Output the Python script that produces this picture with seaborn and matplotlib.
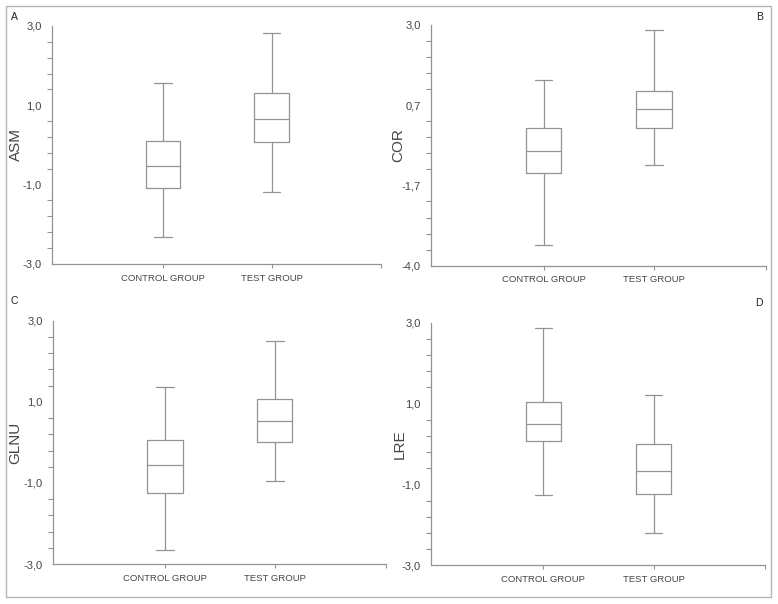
import seaborn as sns
import matplotlib.pyplot as plt
import matplotlib.patches as mpatches
import numpy as np
import pandas as pd

groups = ["CONTROL GROUP", "TEST GROUP"]

# five-number summaries: min, Q1, median, Q3, max
asm_control = [-2.32, -1.09, -0.53, 0.10, 1.57]
asm_test = [-1.19, 0.08, 0.66, 1.30, 2.83]
cor_control = [-3.39, -1.31, -0.66, -0.01, 1.40]
cor_test = [-1.07, 0.00, 0.54, 1.08, 2.85]
glnu_control = [-2.65, -1.24, -0.56, 0.05, 1.36]
glnu_test = [-0.95, 0.00, 0.53, 1.06, 2.49]
lre_control = [-1.26, 0.08, 0.49, 1.03, 2.87]
lre_test = [-2.19, -1.24, -0.68, 0.00, 1.22]

features = ["ASM", "COR", "GLNU", "LRE"]
letters = ["A", "B", "C", "D"]
y_ranges = [(-3.0, 3.0), (-4.0, 3.0), (-3.0, 3.0), (-3.0, 3.0)]
values = {
    "ASM": (asm_control, asm_test),
    "COR": (cor_control, cor_test),
    "GLNU": (glnu_control, glnu_test),
    "LRE": (lre_control, lre_test),
}

rows = []
for feat in features:
    for grp, vals in zip(groups, values[feat]):
        for v in vals:
            rows.append({"feature": feat, "group": grp, "value": v})
df = pd.DataFrame(rows)

sns.set_style("white")
plt.rcParams["font.family"] = ["Liberation Sans", "DejaVu Sans"]

LINE = "#939393"
TEXT = "#454545"

fig = plt.figure(figsize=(7.78, 6.04), dpi=100)
positions = [
    [0.067, 0.563, 0.423, 0.394],
    [0.554, 0.560, 0.430, 0.399],
    [0.068, 0.066, 0.428, 0.403],
    [0.554, 0.064, 0.429, 0.402],
]
label_x = [-0.088, -0.078, -0.093, -0.072]
letter_xy = [(0.019, 0.972), (0.976, 0.972), (0.018, 0.502), (0.976, 0.498)]

for feat, letter, (lo, hi), pos, lx, lxy in zip(features, letters, y_ranges,
                                                 positions, label_x, letter_xy):
    ax = fig.add_axes(pos)
    sub = df[df["feature"] == feat]
    sns.boxplot(data=sub, x="group", y="value", order=groups, whis=(0, 100),
                fill=False, color=LINE, linewidth=0.9, width=0.32, ax=ax)
    ax.set_xlim(-1.02, 2.01)
    ax.set_ylim(lo, hi)
    major = np.linspace(lo, hi, 4)
    ax.set_yticks(major)
    ax.set_yticklabels([f"{v:.1f}".replace(".", ",") for v in major])
    ax.set_yticks(np.linspace(lo, hi, 16), minor=True)
    ax.set_xticks([2.01], minor=True)
    ax.set_xlabel("")
    ax.set_ylabel(feat, fontsize=11, color=TEXT)
    ax.yaxis.set_label_coords(lx, 0.5)
    for side in ["top", "right"]:
        ax.spines[side].set_visible(False)
    for side in ["left", "bottom"]:
        ax.spines[side].set_color(LINE)
        ax.spines[side].set_linewidth(0.9)
    ax.tick_params(axis="y", which="major", direction="out", length=4, width=0.8,
                   color=LINE, labelsize=8, labelcolor=TEXT, pad=3.5)
    ax.tick_params(axis="y", which="minor", direction="out", length=3.5, width=0.8,
                   color=LINE, left=True)
    ax.tick_params(axis="x", which="both", direction="out", length=3, width=0.8,
                   color=LINE, labelsize=6.8, labelcolor=TEXT, pad=4, bottom=True)
    fig.text(lxy[0], lxy[1], letter, fontsize=7.5, color="#222222",
             ha="center", va="center")

frame = mpatches.Rectangle((6 / 778, 1 - 597 / 604), 765 / 778, 591.5 / 604,
                           transform=fig.transFigure, fill=False,
                           edgecolor="#b4b4b4", linewidth=1)
fig.add_artist(frame)

fig.savefig("out.png", dpi=100)
